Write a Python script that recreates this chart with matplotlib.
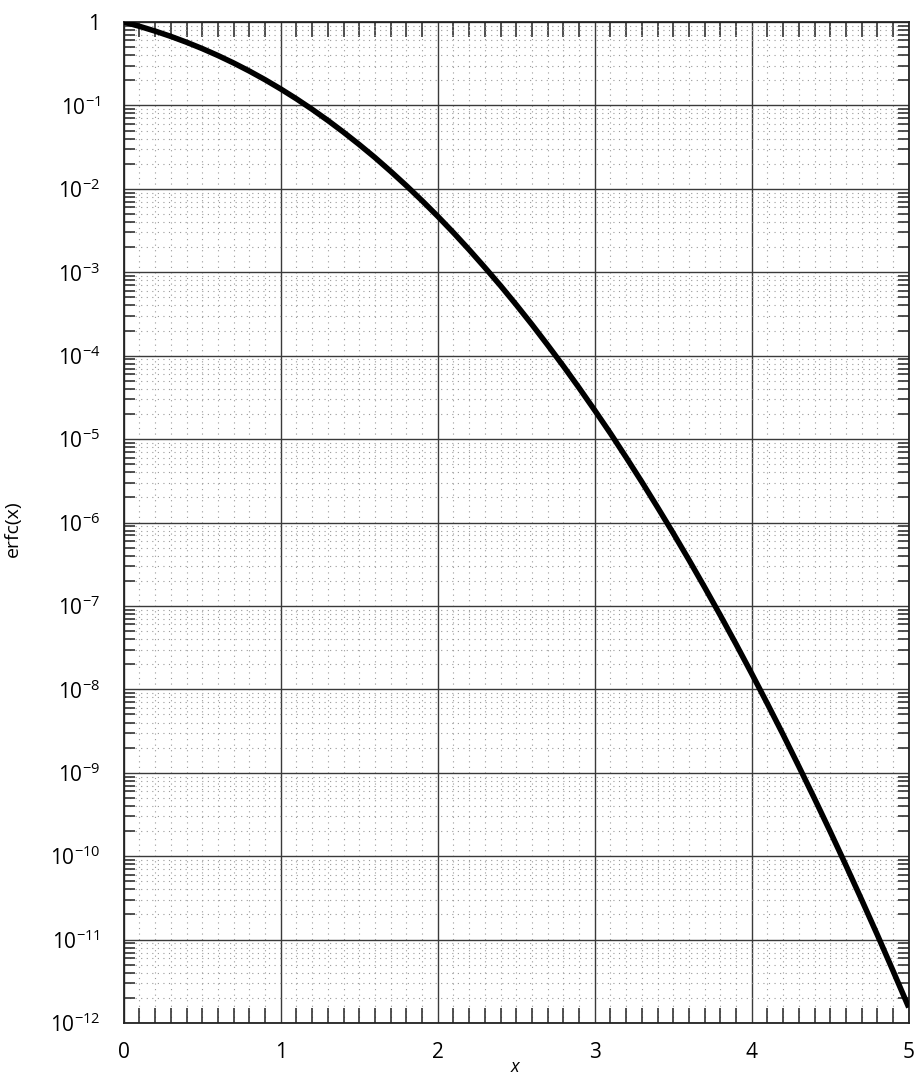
import matplotlib
matplotlib.use("Agg")
import matplotlib.pyplot as plt
from matplotlib.ticker import MultipleLocator, LogLocator, FixedLocator, FixedFormatter, NullFormatter

plt.rcParams['font.family'] = ['Open Sans', 'DejaVu Sans']
plt.rcParams['mathtext.fontset'] = 'custom'
plt.rcParams['mathtext.rm'] = 'Open Sans'
plt.rcParams['mathtext.it'] = 'Open Sans:italic'

# values
x_vals = [0.0, 0.1, 0.2, 0.3, 0.4, 0.5, 0.6, 0.7, 0.8, 0.9, 1.0,
          1.1, 1.2, 1.3, 1.4, 1.5, 1.6, 1.7, 1.8, 1.9, 2.0,
          2.1, 2.2, 2.3, 2.4, 2.5, 2.6, 2.7, 2.8, 2.9, 3.0,
          3.1, 3.2, 3.3, 3.4, 3.5, 3.6, 3.7, 3.8, 3.9, 4.0,
          4.1, 4.2, 4.3, 4.4, 4.5, 4.6, 4.7, 4.8, 4.9, 5.0]
erfc_vals = [1.0, 0.8875, 0.7773, 0.6714, 0.5716, 0.4795, 0.3961, 0.3222, 0.2579, 0.2031, 0.1573,
             0.1198, 0.0897, 0.0660, 0.0477, 0.0339, 0.0237, 0.0162, 0.0109, 7.21e-3, 4.68e-3,
             2.98e-3, 1.86e-3, 1.14e-3, 6.89e-4, 4.07e-4, 2.36e-4, 1.34e-4, 7.50e-5, 4.11e-5, 2.21e-5,
             1.17e-5, 6.03e-6, 3.06e-6, 1.52e-6, 7.43e-7, 3.56e-7, 1.67e-7, 7.70e-8, 3.48e-8, 1.54e-8,
             6.70e-9, 2.86e-9, 1.19e-9, 4.89e-10, 1.97e-10, 7.75e-11, 3.00e-11, 1.14e-11, 4.22e-12, 1.54e-12]

x_ticks = [0, 1, 2, 3, 4, 5]
x_ticklabels = ['0', '1', '2', '3', '4', '5']
y_exps = [0, -1, -2, -3, -4, -5, -6, -7, -8, -9, -10, -11, -12]
y_ticklabels = ['1'] + [r'$\mathregular{10^{%d}}$' % e for e in y_exps[1:]]

fig = plt.figure(figsize=(9.17, 10.78), dpi=100)
ax = fig.add_axes([0.135, 0.051, 0.856, 0.9286])

ax.plot(x_vals, erfc_vals, color='black', lw=4.0, solid_capstyle='butt', zorder=5)
ax.set_yscale('log')
ax.set_xlim(0, 5)
ax.set_ylim(1e-12, 1)

ax.xaxis.set_major_locator(FixedLocator(x_ticks))
ax.xaxis.set_major_formatter(FixedFormatter(x_ticklabels))
ax.xaxis.set_minor_locator(MultipleLocator(0.1))
ax.yaxis.set_major_locator(FixedLocator([10.0 ** e for e in y_exps]))
ax.yaxis.set_major_formatter(FixedFormatter(y_ticklabels))
ax.yaxis.set_minor_locator(LogLocator(base=10, subs=range(2, 10), numticks=30))
ax.yaxis.set_minor_formatter(NullFormatter())

ax.grid(which='major', color='#3a3a3a', lw=1.0, ls='-')
ax.grid(which='minor', color='#9a9a9a', lw=0.8, ls=(0, (1, 4)))

ax.tick_params(which='major', direction='in', length=0, labelsize=15, pad=14,
               top=True, right=True)
ax.tick_params(axis='y', which='major', pad=17)
ax.tick_params(axis='x', which='minor', direction='in', length=11, width=1.2,
               top=True, bottom=True, color='#333333')
ax.tick_params(axis='y', which='minor', direction='in', length=8, width=1.2,
               left=True, right=True, color='#333333')

for s in ax.spines.values():
    s.set_linewidth(1.3)
    s.set_color('#222222')

ax.set_xlabel('$x$', fontsize=13, labelpad=-4)
fig.text(0.014, 0.51, 'erfc(x)', rotation=90, fontsize=14, ha='center', va='center')

fig.savefig('out.png', dpi=100)
